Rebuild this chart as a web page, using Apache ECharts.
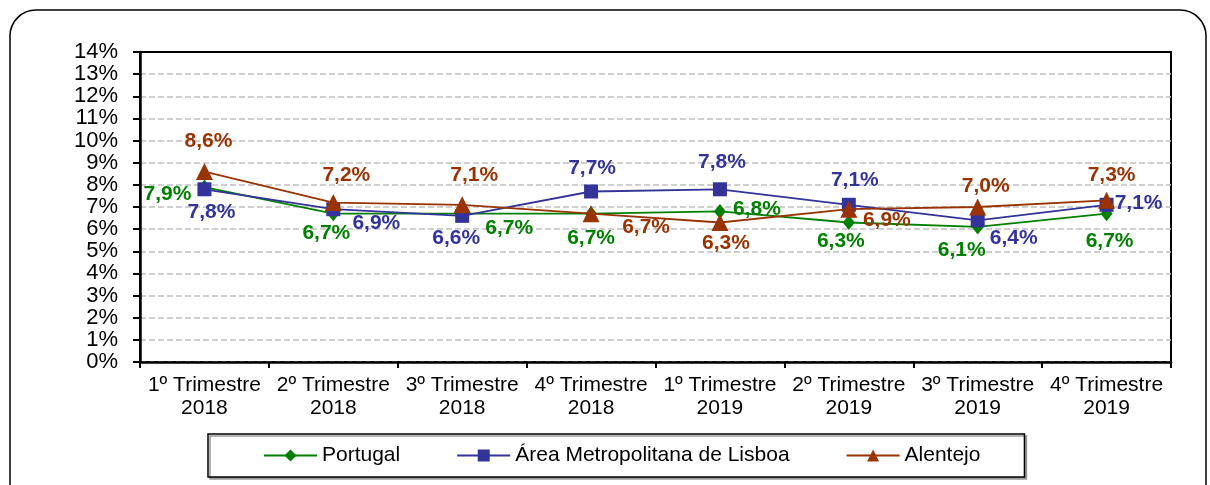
<!DOCTYPE html>
<html>
<head>
<meta charset="utf-8">
<script src="https://cdn.jsdelivr.net/npm/echarts@6/dist/echarts.min.js"></script>
<style>
html,body{margin:0;padding:0;background:#fff;}
#chart{width:1210px;height:485px;}
</style>
</head>
<body>
<div id="chart"></div>
<script>
const categories = ['1º Trimestre\n2018','2º Trimestre\n2018','3º Trimestre\n2018','4º Trimestre\n2018','1º Trimestre\n2019','2º Trimestre\n2019','3º Trimestre\n2019','4º Trimestre\n2019'];
const seriesNames = ['Portugal','Área Metropolitana de Lisboa','Alentejo'];
const portugal = [7.9, 6.7, 6.7, 6.7, 6.8, 6.3, 6.1, 6.7];
const lisboa   = [7.8, 6.9, 6.6, 7.7, 7.8, 7.1, 6.4, 7.1];
const alentejo = [8.6, 7.2, 7.1, 6.7, 6.3, 6.9, 7.0, 7.3];
const yMin = 0, yMax = 14, yStep = 1;

// label offsets (layout only, px from marker centre)
const offPortugal = [[-37,7],[-7,20],[47,15],[0,25],[37,-2],[-8,19],[-16,23],[3,28]];
const offLisboa   = [[7,23],[43,14],[-6,22],[1,-23],[2,-27],[6,-25],[36,18],[32,-2]];
const offAlentejo = [[4,-30],[13,-27],[12,-30],[55,14],[6,21],[38,11],[8,-21],[5,-25]];

const FONT = 'Liberation Sans, Arial, sans-serif';
const colors = ['#008000','#333399','#993300'];
const symbols = ['diamond','rect','triangle'];
const symSizes = [[12,15],[14,14],[17,17]];
const allData = [portugal, lisboa, alentejo];
const allOff = [offPortugal, offLisboa, offAlentejo];

function fmt(v){ return v.toFixed(1).replace('.', ',') + '%'; }

const series = allData.map((arr, si) => ({
  name: seriesNames[si],
  type: 'line',
  data: arr.map((v, i) => ({
    value: v,
    label: { offset: allOff[si][i] }
  })),
  symbol: symbols[si],
  symbolSize: symSizes[si],
  itemStyle: { color: colors[si] },
  lineStyle: { color: colors[si], width: 1.8 },
  z: 2 + si,
  label: {
    show: true,
    position: 'inside',
    formatter: p => fmt(p.value),
    color: colors[si],
    fontFamily: FONT,
    fontWeight: 'bold',
    fontSize: 21
  },
  emphasis: { disabled: true },
  animation: false
}));

const chart = echarts.init(document.getElementById('chart'));
chart.setOption({
  backgroundColor: '#fff',
  animation: false,
  graphic: [{
    type: 'rect',
    shape: { x: 10, y: 10, width: 1196, height: 520, r: 26 },
    style: { fill: 'none', stroke: '#000', lineWidth: 1.5 },
    z: -1
  }],
  grid: {
    left: 140, right: 39, top: 52, bottom: 123,
    show: true, borderColor: '#000', borderWidth: 2, backgroundColor: '#fff'
  },
  legend: {
    left: 208, top: 434,
    padding: [11, 44, 11, 55],
    itemGap: 56,
    itemWidth: 53, itemHeight: 15,
    borderColor: '#000', borderWidth: 1.5,
    backgroundColor: '#fff',
    shadowColor: '#9a9a9a', shadowOffsetX: 2, shadowOffsetY: 2, shadowBlur: 0,
    textStyle: { fontFamily: FONT, fontSize: 21, color: '#000' },
    data: seriesNames
  },
  xAxis: [{
    type: 'category',
    data: categories,
    boundaryGap: true,
    axisLine: { lineStyle: { color: '#000', width: 2.5 } },
    axisTick: { show: true, length: 6, lineStyle: { color: '#000', width: 2 } },
    axisLabel: { interval: 0, color: '#000', fontFamily: FONT, fontSize: 21, lineHeight: 23, margin: 12 },
    splitLine: { show: false }
  }, {
    type: 'category',
    position: 'top',
    data: categories,
    boundaryGap: true,
    axisLine: { show: true, lineStyle: { color: '#000', width: 2 } },
    axisTick: { show: false },
    axisLabel: { show: false },
    splitLine: { show: false }
  }],
  yAxis: {
    type: 'value',
    min: yMin, max: yMax, interval: yStep,
    axisLine: { show: true, lineStyle: { color: '#000', width: 2.5 } },
    axisTick: { show: true, length: 7, lineStyle: { color: '#000', width: 2 } },
    axisLabel: { color: '#000', fontFamily: FONT, fontSize: 22, margin: 22, formatter: '{value}%' },
    splitLine: { show: true, lineStyle: { color: '#c0c0c0', width: 1.5, type: [6, 3] } }
  },
  series: series
});
</script>
</body>
</html>
